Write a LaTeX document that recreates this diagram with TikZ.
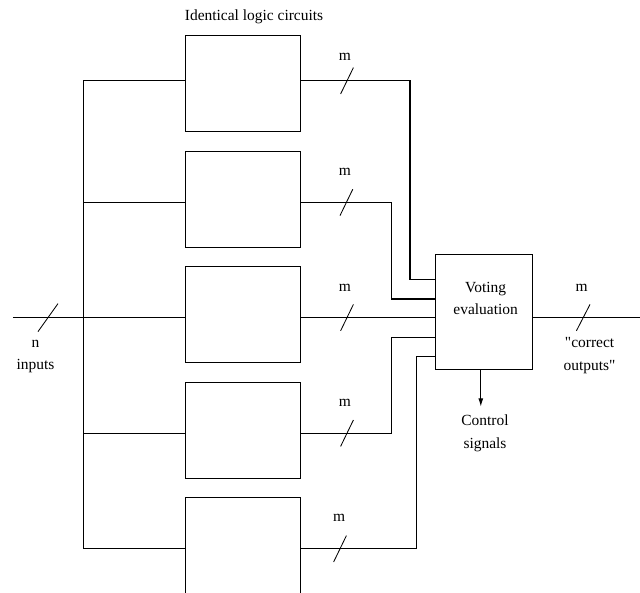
\documentclass[tikz,border=0pt]{standalone}
\usepackage{fontspec}
\setmainfont{Liberation Serif}
\usepackage{tikz}
\usetikzlibrary{arrows.meta}

\begin{document}
\begin{tikzpicture}[
    >={Latex[length=6pt,width=3.5pt]},
    circuit/.style={draw=black,line width=0.8pt,fill=white,
        minimum width=2.875cm,minimum height=2.4cm,inner sep=0pt},
    voter/.style={draw=black,line width=0.8pt,fill=white,
        minimum width=2.415cm,minimum height=2.875cm,inner sep=0pt},
    wire/.style={draw=black,line width=0.8pt},
    slash/.style={draw=black,line width=0.6pt},
    lbl/.style={font=\fontsize{11}{16}\selectfont,align=center,inner sep=0pt}]
\useasboundingbox (0,0) rectangle (16,-14.8);
\node[lbl] (title) at (6.35,-0.42) {Identical logic circuits};
\node[circuit] (lc1) at (6.08,-2.09) {};
\node[circuit] (lc2) at (6.08,-4.98) {};
\node[circuit] (lc3) at (6.08,-7.87) {};
\node[circuit] (lc4) at (6.08,-10.76) {};
\node[circuit] (lc5) at (6.08,-13.64) {};
\node[voter] (vote) at (12.1,-7.79) {};
\node[lbl] (votetxt) at (12.14,-7.46) {Voting\\evaluation};
% input side
\coordinate (inp) at (0.32,-7.94);
\coordinate (b1) at (2.08,-2.02);
\coordinate (b2) at (2.08,-5.06);
\coordinate (b3) at (2.08,-7.94);
\coordinate (b4) at (2.08,-10.83);
\coordinate (b5) at (2.08,-13.72);
\draw[wire] (b1) -- (b5);
\draw[wire] (inp) -- (inp -| lc3.west);
\draw[wire] (b1) -- (b1 -| lc1.west);
\draw[wire] (b2) -- (b2 -| lc2.west);
\draw[wire] (b4) -- (b4 -| lc4.west);
\draw[wire] (b5) -- (b5 -| lc5.west);
\draw[slash] (0.95,-8.29) -- (1.45,-7.59);
\node[lbl] (inlbl) at (0.89,-8.91) {n\\inputs};
% outputs to the voter
\coordinate (v1) at (10.25,-6.98);
\coordinate (v2) at (9.79,-7.475);
\coordinate (v4) at (9.79,-8.43);
\coordinate (v5) at (10.42,-8.92);
\draw[wire] (b1 -| lc1.east) -| (v1) -- (v1 -| vote.west);
\draw[wire] (b2 -| lc2.east) -| (v2) -- (v2 -| vote.west);
\draw[wire] (b3 -| lc3.east) -- (b3 -| vote.west);
\draw[wire] (b4 -| lc4.east) -| (v4) -- (v4 -| vote.west);
\draw[wire] (b5 -| lc5.east) -| (v5) -- (v5 -| vote.west);
\node[lbl] (m1) at (8.625,-1.425) {m};
\node[lbl] (m2) at (8.625,-4.29) {m};
\node[lbl] (m3) at (8.625,-7.2) {m};
\node[lbl] (m4) at (8.625,-10.075) {m};
\node[lbl] (m5) at (8.48,-12.95) {m};
\draw[slash] (8.515,-2.35) -- (8.835,-1.69);
\draw[slash] (8.5,-5.39) -- (8.82,-4.73);
\draw[slash] (8.515,-8.27) -- (8.835,-7.61);
\draw[slash] (8.515,-11.16) -- (8.835,-10.5);
\draw[slash] (8.34,-14.05) -- (8.66,-13.39);
% voter output and control
\coordinate (out) at (16,-7.94);
\coordinate (ctl) at (12.02,-10.17);
\draw[wire] (out -| vote.east) -- (out);
\draw[wire,->] (ctl |- vote.south) -- (ctl);
\node[lbl] (mout) at (14.54,-7.2) {m};
\draw[slash] (14.41,-8.27) -- (14.75,-7.61);
\node[lbl] (outlbl) at (14.74,-8.885) {\textquotedbl correct\\outputs\textquotedbl};
\node[lbl] (ctllbl) at (12.125,-10.83) {Control\\signals};
\end{tikzpicture}
\end{document}
